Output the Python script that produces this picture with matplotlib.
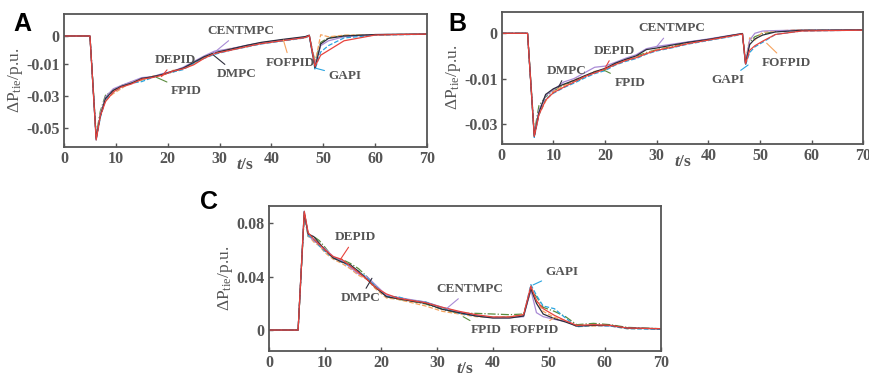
import numpy as np
import matplotlib.pyplot as plt

plt.rcParams['font.family'] = ['Liberation Serif', 'DejaVu Serif']
plt.rcParams['mathtext.fontset'] = 'custom'
plt.rcParams['mathtext.rm'] = 'Liberation Serif'
plt.rcParams['mathtext.it'] = 'Liberation Serif:italic:bold'
plt.rcParams['mathtext.bf'] = 'Liberation Serif:bold'

names = ['FPID', 'FOFPID', 'CENTMPC', 'GAPI', 'DMPC', 'DEPID']
colors = {'DEPID': '#e8433c', 'FPID': '#5b8c3e', 'CENTMPC': '#a98bd6',
          'DMPC': '#2e2e3c', 'FOFPID': '#f6a35e', 'GAPI': '#2aa4e0'}
styles = {'DEPID': '-', 'FPID': '-.', 'CENTMPC': '-', 'DMPC': '-',
          'FOFPID': '--', 'GAPI': '--'}

# ---- panel A
tA = [0, 5, 6.2, 7, 8, 9.5, 11, 13, 15, 17, 19, 21, 23, 25, 27, 29, 32, 35,
      38, 42, 46.5, 47.3, 48.4, 49.5, 51, 54, 60, 70]
A = {
    'DEPID':   [0, 0, -0.065, -0.050, -0.041, -0.035, -0.032, -0.030, -0.027, -0.026, -0.0245, -0.022, -0.0205, -0.018,
                -0.014, -0.011, -0.009, -0.0068, -0.0048, -0.003, -0.001, 0.0003, -0.019, -0.012, -0.009, -0.003, 0.0006, 0.0012],
    'FPID':    [0, 0, -0.062, -0.047, -0.037, -0.034, -0.031, -0.029, -0.0275, -0.0255, -0.024, -0.0225, -0.020, -0.017,
                -0.0135, -0.0105, -0.0085, -0.0062, -0.0045, -0.0028, -0.0008, 0.0001, -0.016, -0.004, -0.001, 0.0003, 0.0008, 0.0012],
    'CENTMPC': [0, 0, -0.064, -0.049, -0.038, -0.033, -0.031, -0.0285, -0.026, -0.0255, -0.0235, -0.022, -0.0195, -0.016,
                -0.0125, -0.0095, -0.008, -0.006, -0.0042, -0.0025, -0.0006, 0.0004, -0.018, -0.006, -0.003, -0.0005, 0.0009, 0.0012],
    'DMPC':    [0, 0, -0.064, -0.050, -0.039, -0.034, -0.0315, -0.0295, -0.0265, -0.0255, -0.024, -0.022, -0.020, -0.0165,
                -0.013, -0.0105, -0.0083, -0.006, -0.004, -0.0022, -0.0004, 0.0005, -0.020, -0.005, -0.0015, 0.0, 0.0009, 0.0012],
    'FOFPID':  [0, 0, -0.063, -0.048, -0.040, -0.036, -0.033, -0.0285, -0.0275, -0.025, -0.0245, -0.0215, -0.0205, -0.0175,
                -0.0135, -0.011, -0.0078, -0.007, -0.0044, -0.003, -0.001, 0.0002, -0.017, 0.0008, -0.0005, 0.0005, 0.0008, 0.0013],
    'GAPI':    [0, 0, -0.065, -0.051, -0.040, -0.035, -0.032, -0.0295, -0.0285, -0.026, -0.024, -0.0225, -0.021, -0.017,
                -0.014, -0.0115, -0.009, -0.007, -0.005, -0.0032, -0.0012, 0.0, -0.021, -0.010, -0.006, -0.0012, 0.0005, 0.0011],
}
yticksA = [0, -0.0175, -0.0375, -0.0575]
ylabelsA = ['0', '-0.01', '-0.03', '-0.05']
notesA = {  # label: (text pos, point)
    'CENTMPC': ((34, 0.0031), (28.8, -0.0108)),
    'DEPID': ((21.4, -0.015), (18.8, -0.0254)),
    'FPID': ((23.6, -0.0342), (17.8, -0.0258)),
    'DMPC': ((33.3, -0.0238), (28.8, -0.0119)),
    'FOFPID': ((43.6, -0.0167), (42.3, -0.0025)),
    'GAPI': ((54.2, -0.025), (48.6, -0.0202)),
}

# ---- panel B
tB = [0, 5, 6.3, 7.2, 8.5, 10, 12, 14, 16, 18, 20, 22, 24, 26, 28, 30, 33, 36,
      40, 44, 46.6, 47.2, 48, 49, 50.5, 53, 58, 70]
B = {
    'DEPID':   [0, 0, -0.0455, -0.036, -0.0295, -0.0262, -0.0238, -0.0215, -0.0192, -0.0175, -0.0158, -0.0138, -0.012, -0.0108,
                -0.009, -0.0075, -0.0062, -0.0046, -0.003, -0.0014, -0.0003, -0.0135, -0.0075, -0.0055, -0.0035, -0.0005, 0.001, 0.0014],
    'FPID':    [0, 0, -0.044, -0.032, -0.028, -0.0255, -0.0228, -0.0212, -0.0195, -0.017, -0.016, -0.0132, -0.0115, -0.0102,
                -0.0085, -0.0072, -0.0058, -0.004, -0.0027, -0.0012, -0.0002, -0.012, -0.004, -0.0015, -0.0002, 0.0008, 0.0015, 0.0015],
    'CENTMPC': [0, 0, -0.045, -0.034, -0.0275, -0.025, -0.0215, -0.020, -0.0175, -0.015, -0.0145, -0.0128, -0.011, -0.0095,
                -0.0068, -0.0058, -0.0048, -0.0038, -0.0025, -0.001, -0.0001, -0.013, -0.003, 0.0, 0.001, 0.0012, 0.0014, 0.0015],
    'DMPC':    [0, 0, -0.0455, -0.035, -0.027, -0.0245, -0.0225, -0.0208, -0.0188, -0.017, -0.0155, -0.0132, -0.0115, -0.010,
                -0.0072, -0.0065, -0.0052, -0.004, -0.0027, -0.0011, -0.0001, -0.0135, -0.005, -0.0025, -0.0008, 0.0006, 0.0013, 0.0015],
    'FOFPID':  [0, 0, -0.0445, -0.036, -0.030, -0.0255, -0.0232, -0.0205, -0.019, -0.0168, -0.0162, -0.0138, -0.0122, -0.0106,
                -0.0088, -0.0072, -0.006, -0.0045, -0.003, -0.0013, -0.0002, -0.0125, -0.002, -0.003, 0.0005, 0.001, 0.0016, 0.0014],
    'GAPI':    [0, 0, -0.046, -0.036, -0.029, -0.0265, -0.024, -0.022, -0.0198, -0.0178, -0.0165, -0.014, -0.0124, -0.0112,
                -0.0092, -0.0078, -0.0064, -0.0048, -0.0032, -0.0016, -0.0004, -0.014, -0.0085, -0.006, -0.004, -0.0005, 0.001, 0.0014],
}
yticksB = [0, -0.0202, -0.040]
ylabelsB = ['0', '-0.01', '-0.03']
notesB = {
    'CENTMPC': ((32.9, 0.0022), (30.0, -0.0059)),
    'DEPID': ((21.9, -0.0077), (20.0, -0.0154)),
    'DMPC': ((12.6, -0.0165), (11.0, -0.0238)),
    'FPID': ((24.8, -0.0218), (19.7, -0.0162)),
    'GAPI': ((43.7, -0.0206), (47.7, -0.014)),
    'FOFPID': ((55.2, -0.013), (51.3, -0.0044)),
}

# ---- panel C
tC = [0, 5.2, 6.3, 7, 8, 9, 10, 11.5, 13, 14.5, 16, 17.5, 19, 21, 23, 25, 28, 31,
      34, 37, 40, 43, 45.5, 46.8, 47.8, 49, 51, 53, 55, 58, 61, 64, 70]
C = {
    'DEPID':   [0, 0, 0.089, 0.073, 0.068, 0.064, 0.060, 0.055, 0.053, 0.048, 0.043, 0.038, 0.032, 0.027, 0.024, 0.0225, 0.0205,
                0.017, 0.014, 0.0115, 0.0098, 0.0098, 0.0115, 0.033, 0.022, 0.016, 0.011, 0.007, 0.0035, 0.004, 0.0035, 0.0015, 0.001],
    'FPID':    [0, 0, 0.086, 0.070, 0.070, 0.067, 0.062, 0.054, 0.053, 0.050, 0.046, 0.040, 0.033, 0.025, 0.023, 0.022, 0.0195,
                0.0155, 0.0125, 0.0125, 0.012, 0.0115, 0.012, 0.030, 0.025, 0.017, 0.014, 0.010, 0.004, 0.005, 0.004, 0.002, 0.001],
    'CENTMPC': [0, 0, 0.088, 0.071, 0.067, 0.064, 0.061, 0.055, 0.052, 0.047, 0.042, 0.040, 0.034, 0.026, 0.0245, 0.023, 0.021,
                0.017, 0.0135, 0.011, 0.0092, 0.0092, 0.010, 0.030, 0.013, 0.010, 0.008, 0.0065, 0.003, 0.0035, 0.003, 0.0015, 0.0008],
    'DMPC':    [0, 0, 0.088, 0.072, 0.070, 0.065, 0.060, 0.054, 0.051, 0.049, 0.044, 0.038, 0.032, 0.025, 0.0235, 0.022, 0.020,
                0.0155, 0.013, 0.0105, 0.009, 0.009, 0.0105, 0.031, 0.020, 0.012, 0.0085, 0.006, 0.003, 0.0035, 0.0035, 0.0015, 0.001],
    'FOFPID':  [0, 0, 0.087, 0.071, 0.066, 0.063, 0.058, 0.053, 0.050, 0.046, 0.041, 0.038, 0.031, 0.024, 0.023, 0.021, 0.018,
                0.014, 0.012, 0.010, 0.0095, 0.010, 0.0115, 0.030, 0.022, 0.014, 0.0095, 0.007, 0.0025, 0.003, 0.003, 0.001, 0.001],
    'GAPI':    [0, 0, 0.089, 0.071, 0.068, 0.063, 0.059, 0.054, 0.051, 0.048, 0.044, 0.039, 0.033, 0.025, 0.025, 0.0225, 0.021,
                0.0165, 0.0125, 0.0105, 0.0095, 0.0095, 0.011, 0.034, 0.026, 0.018, 0.016, 0.009, 0.0025, 0.0035, 0.003, 0.001, 0.0005],
}
yticksC = [0, 0.04, 0.08]
ylabelsC = ['0', '0.04', '0.08']
notesC = {
    'DEPID': ((15.4, 0.0695), (12.7, 0.0525)),
    'DMPC': ((16.3, 0.0238), (18.4, 0.0388)),
    'CENTMPC': ((35.9, 0.0307), (31.8, 0.0163)),
    'FPID': ((38.9, 0.0), (34.7, 0.010)),
    'GAPI': ((52.3, 0.0438), (47.2, 0.0338)),
    'FOFPID': ((47.5, 0.0), (50.8, 0.0088)),
}

gray = '#555555'
fig = plt.figure(figsize=(8.7, 3.78), dpi=100)


def panel(rect, t, series, yticks, ylabels, ylim, notes, letter, lpos):
    ax = fig.add_axes(rect)
    for n in names:
        ax.plot(t, series[n], styles[n], color=colors[n], lw=0.9)
    ax.set_xlim(0, 70)
    ax.set_ylim(*ylim)
    ax.set_xticks(range(0, 71, 10))
    ax.set_yticks(yticks)
    ax.set_yticklabels(ylabels)
    ax.tick_params(direction='in', length=3, width=1, color=gray, labelcolor=gray,
                   labelsize=11.5, pad=3)
    for lab in ax.get_xticklabels() + ax.get_yticklabels():
        lab.set_fontweight('bold')
    for s in ax.spines.values():
        s.set_color(gray)
        s.set_linewidth(1.3)
    ax.set_xlabel(r'$\mathit{t}$/s', fontsize=12.5, fontweight='bold', color=gray, labelpad=-7)
    ax.set_ylabel(r'$\Delta\mathrm{P}_{\mathrm{tie}}$/p.u.', fontsize=12.5, color=gray, labelpad=1)
    for n, (txt, pt) in notes.items():
        ax.annotate(n, xy=pt, xytext=txt, ha='center', va='center', fontsize=9.5,
                    fontweight='bold', color=gray,
                    arrowprops=dict(arrowstyle='-', color=colors[n], lw=0.8, shrinkA=1, shrinkB=0))
    fig.text(lpos[0], lpos[1], letter, family='Liberation Sans', fontweight='bold',
             fontsize=18, ha='center', va='center')
    return ax


panel([0.0736, 0.611, 0.4172, 0.352], tA, A, yticksA, ylabelsA, (-0.0694, 0.01375),
      notesA, 'A', (22 / 870, 1 - 24 / 378))
panel([0.5767, 0.619, 0.4156, 0.350], tB, B, yticksB, ylabelsB, (-0.0489, 0.00953),
      notesB, 'B', (457 / 870, 1 - 24 / 378))
panel([0.3092, 0.0722, 0.4502, 0.383], tC, C, yticksC, ylabelsC, (-0.0155, 0.093),
      notesC, 'C', (209 / 870, 1 - 202 / 378))

plt.savefig('out.png', dpi=100)
